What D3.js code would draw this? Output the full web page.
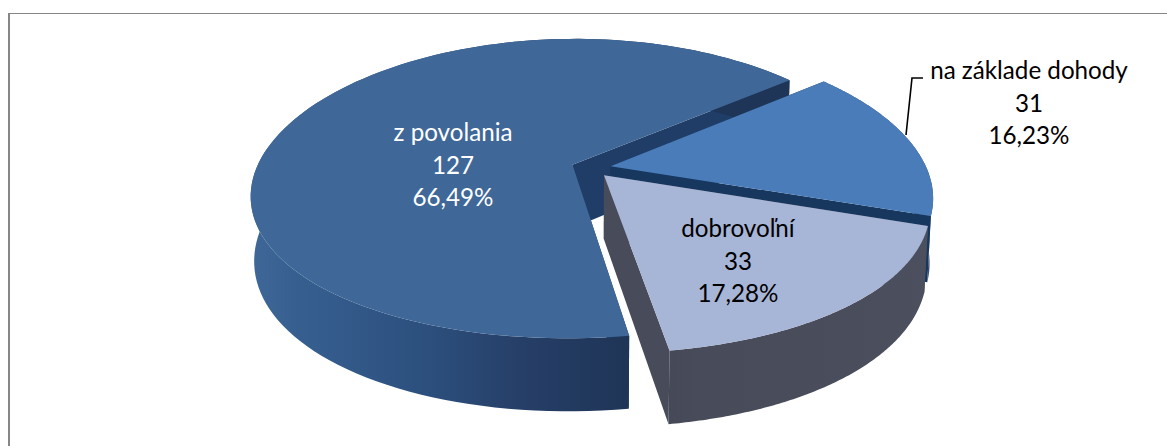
<!DOCTYPE html>
<html><head><meta charset="utf-8">
<script src="https://cdn.jsdelivr.net/npm/d3@7"></script>
<style>html,body{margin:0;padding:0;background:#fff}svg{display:block}text{font-family:Lato,"Open Sans",sans-serif}</style>
</head><body><svg id="c" width="1167" height="446"></svg>
<script>
const categories = ["z povolania", "na základe dohody", "dobrovoľní"];
const counts = [127, 31, 33];
const percents = ["66,49%", "16,23%", "17,28%"];
const topColors = ["#3f6899", "#4a7cb9", "#a7b5d7"];
const cutColors = ["#1f3d66", "#17375f", "#474b5a"];
const wallOffsets = [0, 0.13, 0.47, 0.71, 1];
const wallStops = [
  ["#3f6899", "#365f90", "#2c4f7d", "#263f68", "#1f3557"],
  ["#3b4f74", "#3b4f74", "#3b4f74", "#3b4f74", "#3b4f74"],
  ["#464a58", "#484c5a", "#494d5b", "#4a4e5c", "#4c505e"]
];
const labelColors = ["#ffffff", "#000000", "#000000"];

const W = 1167, H = 446;
const svg = d3.select("#c");

// frame: left rule and top rule only
svg.append("path").attr("d", `M9 ${H} V13`).attr("fill", "none").attr("stroke", "#868686").attr("stroke-width", 2);
svg.append("path").attr("d", `M8 13.5 H${W}`).attr("fill", "none").attr("stroke", "#868686").attr("stroke-width", 1);

// exploded 3D pie: ground plane is projected with a perspective division
const O = [591, 168], A = 316, B = 147, PX = 0.2, PY = 0.16, Q = 0.01, DEPTH = 64, EXPLODE = 0.063;
const project = (x, d, z) => [
  O[0] + A * x / (1 - PX * d + Q * z),
  O[1] + (B * d + DEPTH * z) / (1 - PY * d + Q * z)
];
const startDeg = 171;
const arcs = d3.pie().sort(null).startAngle(startDeg * Math.PI / 180)
  .endAngle((startDeg + 360) * Math.PI / 180)(counts);
const line = d3.line();
const defs = svg.append("defs");

arcs.forEach((a, i) => {
  const mid = (a.startAngle + a.endAngle) / 2;
  const ex = EXPLODE * Math.sin(mid), ed = -EXPLODE * Math.cos(mid);
  const rim = z => d3.range(0, 121).map(k => {
    const t = a.startAngle + (a.endAngle - a.startAngle) * k / 120;
    return project(ex + Math.sin(t), ed - Math.cos(t), z);
  });
  const apex = z => project(ex, ed, z);
  const g = svg.append("g");
  const top = rim(0), bot = rim(1);

  const drawCuts = () => [top[0], top[120]].forEach((p, j) => {
    const q = j ? bot[120] : bot[0];
    g.append("path").attr("d", line([apex(0), p, q, apex(1)]) + "Z").attr("fill", cutColors[i]);
  });
  // outer wall, shaded horizontally across the part that can be seen
  const drawWall = () => {
    const xs = top.map(p => p[0]);
    const grad = defs.append("linearGradient").attr("id", "w" + i)
      .attr("gradientUnits", "userSpaceOnUse")
      .attr("x1", d3.min(xs)).attr("x2", i === 0 ? top[0][0] : d3.max(xs)).attr("y1", 0).attr("y2", 0);
    wallOffsets.forEach((o, k) => grad.append("stop").attr("offset", o).attr("stop-color", wallStops[i][k]));
    g.append("path").attr("d", line(top.concat(bot.slice().reverse())) + "Z").attr("fill", `url(#w${i})`);
  };
  if (i === 1) { drawWall(); drawCuts(); } else { drawCuts(); drawWall(); }
  // top surface
  g.append("path").attr("d", line([apex(0)].concat(top)) + "Z").attr("fill", topColors[i]);
});

// leader line
const leader = [[906, 135], [912, 78], [923, 78]];
svg.append("path").attr("d", line(leader)).attr("fill", "none").attr("stroke", "#000").attr("stroke-width", 1.6);

// labels
const labelAnchors = [[453, 141], [1029, 79], [738, 237]];
categories.forEach((c, i) => {
  [c, String(counts[i]), percents[i]].forEach((s, k) => {
    svg.append("text").attr("x", labelAnchors[i][0]).attr("y", labelAnchors[i][1] + k * 32.7)
      .attr("text-anchor", "middle").attr("font-size", 24.2).attr("fill", labelColors[i]).text(s);
  });
});
</script></body></html>
